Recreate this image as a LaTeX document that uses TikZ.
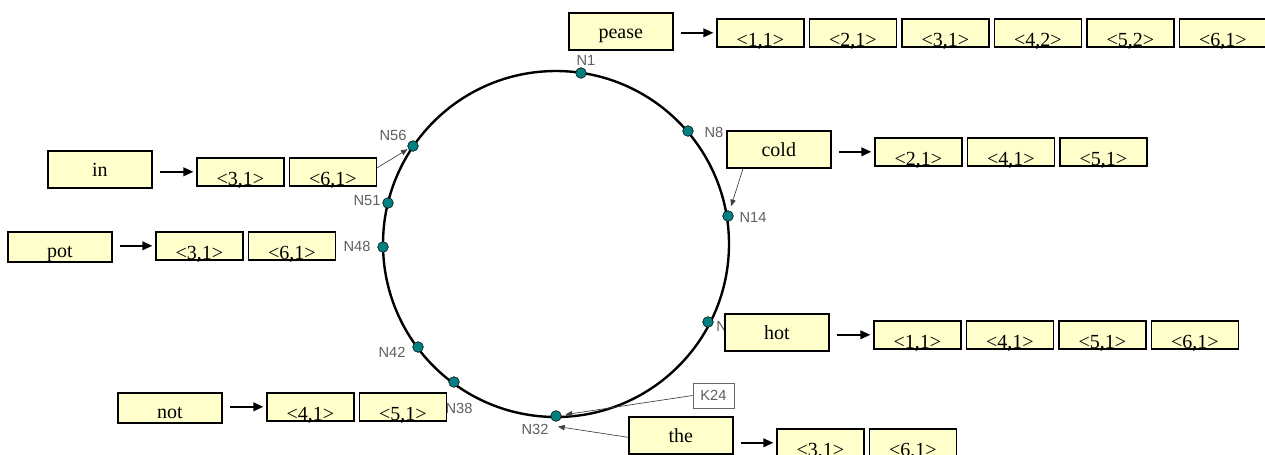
\documentclass[tikz,border=0pt]{standalone}
\usepackage{fontspec}
\setmainfont{Liberation Serif}
\newfontfamily\ringfont{Liberation Sans}
\usetikzlibrary{arrows.meta, calc}
\definecolor{postfill}{RGB}{255,255,204}
\definecolor{ringteal}{RGB}{0,128,128}
\definecolor{labelgray}{RGB}{95,95,95}

\begin{document}
\begin{tikzpicture}[
    x=0.75pt, y=-0.75pt,
    word/.style={draw=black, line width=1.2pt, fill=postfill, inner sep=0pt, anchor=north west,
      minimum width=78pt, text height=19.5pt, text depth=8.25pt, font=\fontsize{15}{18}\selectfont},
    shortword/.style={word, text depth=3pt},
    post/.style={draw=black, line width=1.2pt, fill=postfill, inner sep=0pt, anchor=north west,
      minimum width=65.25pt, text height=21pt, text depth=-2.25pt, font=\fontsize{15}{18}\selectfont},
    peer/.style={circle, draw=black, line width=0.4pt, fill=ringteal, inner sep=0pt, minimum size=8pt},
    tag/.style={text=labelgray, font=\ringfont\fontsize{11}{13}\selectfont, inner sep=0pt},
    list/.style={-{Triangle[length=7.5pt,width=6.5pt]}, line width=1.3pt, shorten <=5.5pt, shorten >=2pt},
    lookup/.style={-{Triangle[length=5pt,width=4pt]}, line width=0.5pt, draw=black!75}
  ]
  \useasboundingbox (0,0) rectangle (1265,454);

  % Chord ring
  \draw[line width=1.8pt] (556,244) circle[radius=129.75pt];
  \node[peer] (n1) at (581,73) {};
  \node[peer] (n8) at (688,131) {};
  \node[peer] (n14) at (728,216) {};
  \node[peer] (n21) at (708,322) {};
  \node[peer] (n32) at (556,416) {};
  \node[peer] (n38) at (454,382) {};
  \node[peer] (n42) at (418,347) {};
  \node[peer] (n48) at (383,247) {};
  \node[peer] (n51) at (388,203) {};
  \node[peer] (n56) at (413,146) {};

  \node[tag] (t1) at (586,60) {N1};
  \node[tag] (t8) at (714,132) {N8};
  \node[tag] (t14) at (753,217) {N14};
  \node[tag, anchor=west] (t21) at (716,326) {N};
  \node[tag] (t32) at (535,429) {N32};
  \node[tag] (t38) at (459,408) {N38};
  \node[tag] (t42) at (392,352) {N42};
  \node[tag] (t48) at (357,246) {N48};
  \node[tag] (t51) at (367,201) {N51};
  \node[tag] (t56) at (393,135) {N56};

  % key K24
  \node[draw=black!60, fill=white, line width=0.5pt, inner sep=0pt, minimum width=30.75pt, minimum height=18.75pt,
    text=labelgray, font=\ringfont\fontsize{11}{13}\selectfont] (k24) at (713.5,395.5) {K24};

  % words and their posting lists
  \node[word] (pease) at (568,12) {pease};
  \foreach \t [count=\i from 0] in {{<1,1>},{<2,1>},{<3,1>},{<4,2>},{<5,2>},{<6,1>}}
    \node[post] (pe\i) at ({716+92.5*\i},18) {\t};

  \node[word] (cold) at (726,130) {cold};
  \foreach \t [count=\i from 0] in {{<2,1>},{<4,1>},{<5,1>}}
    \node[post] (co\i) at ({874+92.5*\i},137) {\t};

  \node[word] (hot) at (724,313) {hot};
  \foreach \t [count=\i from 0] in {{<1,1>},{<4,1>},{<5,1>},{<6,1>}}
    \node[post] (ho\i) at ({873+92.5*\i},320) {\t};

  \node[word] (in) at (47,150) {in};
  \foreach \t [count=\i from 0] in {{<3,1>},{<6,1>}}
    \node[post] (in\i) at ({196+92.5*\i},157) {\t};

  \node[shortword] (pot) at (7,231) {pot};
  \foreach \t [count=\i from 0] in {{<3,1>},{<6,1>}}
    \node[post] (po\i) at ({155+92.5*\i},231) {\t};

  \node[shortword] (not) at (117,392) {not};
  \fill[black!55] (410,416) rectangle (440,420);
  \foreach \t [count=\i from 0] in {{<4,1>},{<5,1>}}
    \node[post] (no\i) at ({266+92.5*\i},392) {\t};

  \node[word] (the) at (628,416) {the};
  \foreach \t [count=\i from 0] in {{<3,1>},{<6,1>}}
    \node[post] (th\i) at ({776+92.5*\i},428) {\t};

  \draw[list] (pease.east |- pe0) -- (pe0.west);
  \draw[list] (cold.east |- co0) -- (co0.west);
  \draw[list] (hot.east |- ho0) -- (ho0.west);
  \draw[list] (in.east |- in0) -- (in0.west);
  \draw[list] (pot.east |- po0) -- (po0.west);
  \draw[list] (not.east |- no0) -- (no0.west);
  \draw[list] (the.east |- th0) -- (th0.west);

  % where the lists are stored
  \draw[lookup, shorten >=3.5pt] ($(cold.south west)+(17,0)$) -- (n14);
  \draw[lookup, shorten >=0.5pt] ($(in1.east)+(0,-4)$) -- (n56);
  \draw[lookup, shorten >=3pt] (k24.west) -- (n32);
  \draw[lookup] ($(the.west)+(0,2)$) -- ($(n32.south)+(2,5)$);
\end{tikzpicture}
\end{document}
